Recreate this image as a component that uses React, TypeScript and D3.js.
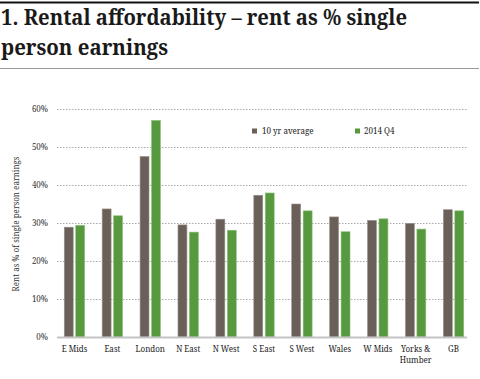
import React from "react";
import * as d3 from "d3";

const categories = ["E Mids", "East", "London", "N East", "N West", "S East", "S West", "Wales", "W Mids", "Yorks &\nHumber", "GB"];
const avg10yr = [28.9, 33.7, 47.5, 29.5, 31.0, 37.3, 35.0, 31.6, 30.7, 29.9, 33.5];
const q42014 = [29.4, 31.9, 57.0, 27.6, 28.1, 37.9, 33.2, 27.7, 31.1, 28.4, 33.2];
const seriesNames = ["10 yr average", "2014 Q4"];
const yTicks = [0, 10, 20, 30, 40, 50, 60];
const titleLines = ["1. Rental affordability – rent as % single", "person earnings"];

const colors = ["#6a6059", "#56993e"];
const serif = "Noto Serif";

export default function App() {
  const W = 480, H = 379;
  const y = d3.scaleLinear().domain([0, 60]).range([337, 109]);
  const x = d3.scaleBand<string>().domain(categories).range([55.5, 472.5]).paddingInner(0).paddingOuter(0);
  const sub = d3.scaleBand<string>().domain(seriesNames).range([-10.2, 10.2]).paddingInner(0.22);
  const data = [avg10yr, q42014];
  const small = { fontFamily: serif, fontSize: 8 };
  const titleStyle = { fontFamily: serif, fontWeight: "bold" as const, fontSize: 22.5 };
  return (
    <svg width={W} height={H} style={{ position: "absolute", left: 0, top: 0, background: "#fff" }}>
      <rect x={0} y={0} width={W} height={H} fill="#fff" />
      <line x1={0} x2={479} y1={2.5} y2={2.5} stroke="#111" strokeWidth={2} />
      <text x={1} y={25} style={titleStyle} fill="#1a1a1a" textLength={406} lengthAdjust="spacingAndGlyphs">{titleLines[0]}</text>
      <text x={1} y={54.5} style={titleStyle} fill="#1a1a1a" textLength={167} lengthAdjust="spacingAndGlyphs">{titleLines[1]}</text>
      <line x1={0} x2={479} y1={68.5} y2={68.5} stroke="#999" strokeWidth={1} />

      {yTicks.map((t) => (
        <g key={t}>
          {t > 0 && (
            <line x1={57} x2={467} y1={Math.round(y(t)) + 0.5} y2={Math.round(y(t)) + 0.5} stroke="#aaa" strokeWidth={1} strokeDasharray="1.5,1.5" />
          )}
          <text x={48} y={y(t) + 3} textAnchor="end" style={small} fill="#333">{t}%</text>
        </g>
      ))}

      <text transform="translate(19,224) rotate(-90)" textAnchor="middle" style={{ fontFamily: serif, fontSize: 8 }} fill="#333">Rent as % of single person earnings</text>

      {categories.map((c, i) => {
        const cx = (x(c) as number) + x.bandwidth() / 2;
        return (
          <g key={c}>
            {seriesNames.map((s, k) => (
              <rect key={s} x={cx + (sub(s) as number)} width={sub.bandwidth()} y={y(data[k][i])} height={y(0) - y(data[k][i])} fill={colors[k]} stroke={k === 0 ? "#9a928c" : "#8cc27a"} strokeWidth={0.6} />
            ))}
            {c.split("\n").map((ln, j) => (
              <text key={j} x={cx} y={352 + j * 11} textAnchor="middle" style={small} fill="#222">{ln}</text>
            ))}
          </g>
        );
      })}

      <line x1={57} x2={467} y1={337.5} y2={337.5} stroke="#c4c4c4" strokeWidth={2} />

      <rect x={252} y={128.5} width={5} height={5} fill={colors[0]} />
      <text x={262} y={134} style={small} fill="#222">10 yr average</text>
      <rect x={355} y={128.5} width={5} height={5} fill={colors[1]} />
      <text x={364} y={134} style={small} fill="#222">2014 Q4</text>
    </svg>
  );
}
